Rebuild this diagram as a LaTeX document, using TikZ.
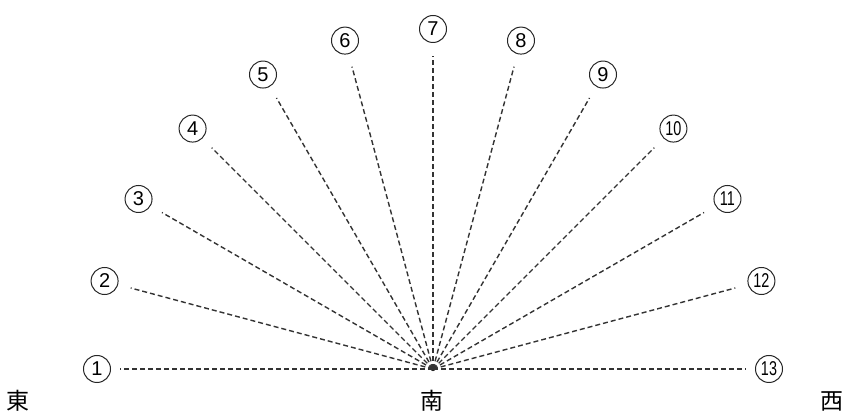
\documentclass[tikz,border=0pt]{standalone}
\usepackage{fontspec}
\usetikzlibrary{calc}
\setmainfont{Liberation Sans}
\newfontfamily\cjk{Noto Sans CJK JP}
\begin{document}
\begin{tikzpicture}[x=1pt,y=-1pt,
  ray/.style={draw=black!80, line width=1.4pt, dash pattern=on 5pt off 3pt},
  num/.style={circle, draw=black!85, line width=1pt, minimum size=27pt, inner sep=0pt, font=\fontsize{20}{20}\selectfont},
  dir/.style={font=\cjk\fontsize{23}{23}\selectfont, inner sep=0pt}]
\useasboundingbox (0,0) rectangle (855,419);
\coordinate (c) at (433,369);
\fill[black!85] (c) circle (2.2pt);
\foreach \i in {1,...,13} {
  \pgfmathsetmacro\ang{180-(\i-1)*15}
  \pgfmathsetmacro\rad{(\i==1 || \i==13) ? 336 : 340}
  \coordinate (e\i) at ($(c)+({313*cos(\ang)},{-313*sin(\ang)})$);
  \ifnum\i<10
    \node[num] (n\i) at ($(c)+({\rad*cos(\ang)},{-\rad*sin(\ang)})$) {\i};
  \else
    \node[num] (n\i) at ($(c)+({\rad*cos(\ang)},{-\rad*sin(\ang)})$) {\scalebox{0.72}[1]{\i}};
  \fi
  \draw[ray] (c) -- (e\i);
}
\node[dir] (east) at (18,401) {東};
\node[dir] (south) at (432,401) {南};
\node[dir] (west) at (832,401) {西};
\end{tikzpicture}
\end{document}
